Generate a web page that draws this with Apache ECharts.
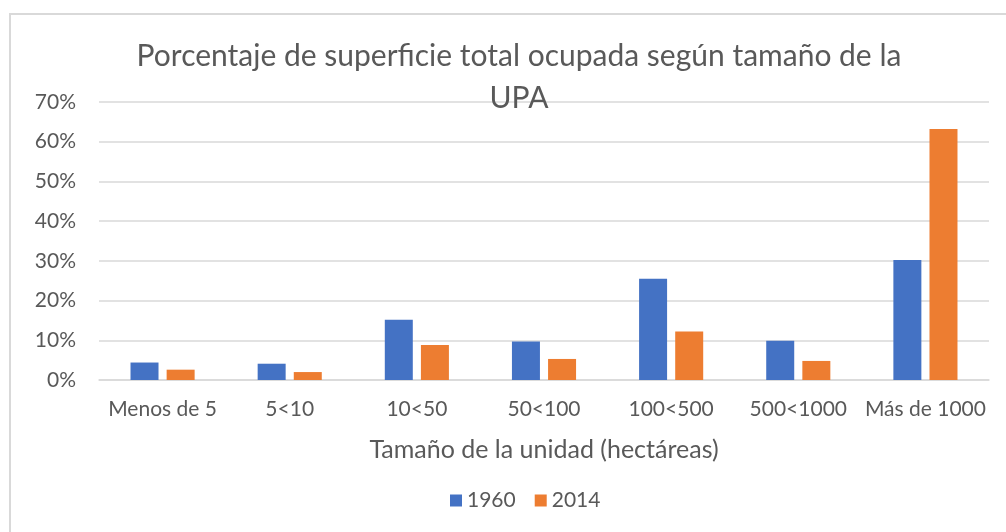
<!DOCTYPE html>
<html>
<head>
<meta charset="utf-8">
<script src="https://cdn.jsdelivr.net/npm/echarts@6/dist/echarts.min.js"></script>
<style>
  html, body { margin: 0; padding: 0; background: #fff; overflow: hidden; }
  #frame { position: absolute; left: 9px; top: 13px; width: 1010px; height: 540px; border: 2px solid #d9d9d9; box-sizing: border-box; }
  #chart { position: absolute; left: 0; top: 0; width: 1006px; height: 532px; }
</style>
</head>
<body>
<div id="frame"></div>
<div id="chart"></div>
<script>
const categories = ['Menos de 5', '5<10', '10<50', '50<100', '100<500', '500<1000', 'Más de 1000'];
const values1960 = [4.4, 4.1, 15.2, 9.7, 25.5, 9.9, 30.2];
const values2014 = [2.6, 2.0, 8.8, 5.3, 12.2, 4.8, 63.2];
const seriesNames = ['1960', '2014'];

const textColor = '#595959';
const font = 'Lato, "Liberation Sans", sans-serif';

const chart = echarts.init(document.getElementById('chart'));
chart.setOption({
  color: ['#4472C4', '#ED7D31'],
  animation: false,
  textStyle: { fontFamily: font, color: textColor },
  title: {
    text: 'Porcentaje de superficie total ocupada según tamaño de la\nUPA',
    left: 514,
    textAlign: 'center',
    top: 30,
    textStyle: { fontFamily: font, fontSize: 30, fontWeight: 'normal', color: textColor, lineHeight: 42 }
  },
  legend: {
    bottom: 16,
    left: 445,
    itemWidth: 12,
    itemHeight: 12,
    itemGap: 19,
    icon: 'rect',
    textStyle: { fontFamily: font, fontSize: 21, color: textColor },
    data: seriesNames
  },
  grid: { left: 99, right: 17, top: 102, bottom: 152 },
  xAxis: {
    type: 'category',
    data: categories,
    name: 'Tamaño de la unidad (hectáreas)',
    nameLocation: 'middle',
    nameGap: 57,
    nameTextStyle: { fontFamily: font, fontSize: 25, color: textColor },
    axisLine: { lineStyle: { color: '#d9d9d9', width: 1.5 } },
    axisTick: { show: false },
    axisLabel: { fontFamily: font, fontSize: 21, color: textColor, margin: 19, interval: 0 }
  },
  yAxis: {
    type: 'value',
    min: 0,
    max: 70,
    interval: 10,
    axisLine: { show: false },
    axisTick: { show: false },
    axisLabel: { formatter: '{value}%', fontFamily: font, fontSize: 21, color: textColor, margin: 23 },
    splitLine: { lineStyle: { color: '#d9d9d9', width: 1.5 } }
  },
  series: [
    { name: seriesNames[0], type: 'bar', data: values1960, barWidth: 28, barGap: '29%' },
    { name: seriesNames[1], type: 'bar', data: values2014, barWidth: 28, barGap: '29%' }
  ]
});
</script>
</body>
</html>
